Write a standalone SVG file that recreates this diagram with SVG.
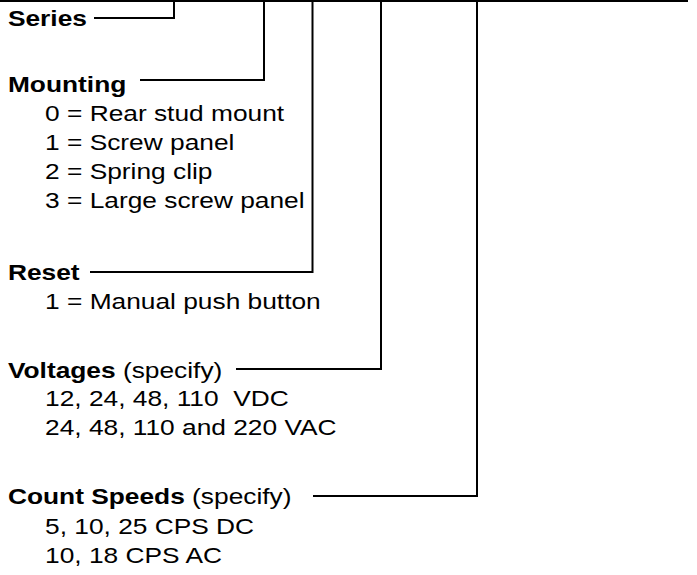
<svg xmlns="http://www.w3.org/2000/svg" width="697" height="575" viewBox="0 0 697 575">
<style>
  .t { font-family: "Liberation Sans", Arial, sans-serif; font-size: 22.5px; fill: #000; }
  .b { font-weight: bold; }
  .c { stroke: #000; stroke-width: 2; fill: none; }
</style>
<rect width="697" height="575" fill="#fff"/>
<g id="connectors">
  <line class="c" x1="0" y1="1" x2="688" y2="1"/>
  <polyline class="c" points="94,18 174,18 174,0"/>
  <polyline class="c" points="140,80 264,80 264,0"/>
  <polyline class="c" points="90,272 312.5,272 312.5,0"/>
  <polyline class="c" points="236,369 381,369 381,0"/>
  <polyline class="c" points="313,496 477,496 477,0"/>
</g>
<g id="series" transform="scale(1.17,1)">
  <text class="t b" x="6.8" y="26">Series</text>
</g>
<g id="mounting" transform="scale(1.17,1)">
  <text class="t b" x="6.8" y="92">Mounting</text>
  <text class="t" x="38.5" y="121">0 = Rear stud mount</text>
  <text class="t" x="38.5" y="150">1 = Screw panel</text>
  <text class="t" x="38.5" y="179">2 = Spring clip</text>
  <text class="t" x="38.5" y="208">3 = Large screw panel</text>
</g>
<g id="reset" transform="scale(1.17,1)">
  <text class="t b" x="6.8" y="280">Reset</text>
  <text class="t" x="38.5" y="309">1 = Manual push button</text>
</g>
<g id="voltages" transform="scale(1.17,1)">
  <text class="t" x="6.8" y="378"><tspan class="b">Voltages</tspan> (specify)</text>
  <text class="t" x="38.5" y="406" xml:space="preserve">12, 24, 48, 110  VDC</text>
  <text class="t" x="38.5" y="435">24, 48, 110 and 220 VAC</text>
</g>
<g id="count-speeds" transform="scale(1.17,1)">
  <text class="t" x="6.8" y="504"><tspan class="b">Count Speeds</tspan> (specify)</text>
  <text class="t" x="38.5" y="534">5, 10, 25 CPS DC</text>
  <text class="t" x="38.5" y="563">10, 18 CPS AC</text>
</g>
</svg>
